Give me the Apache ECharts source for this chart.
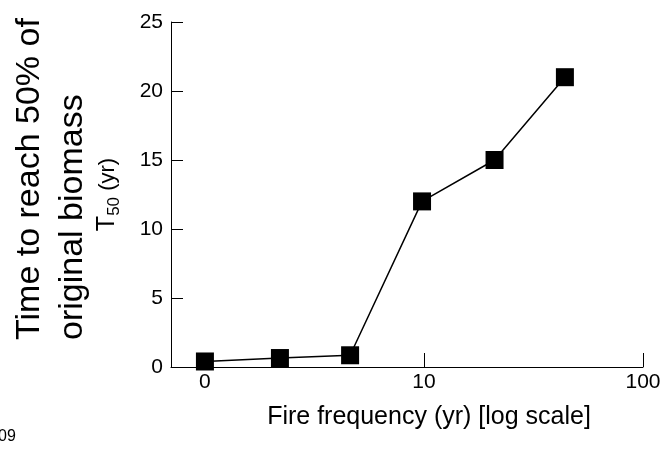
<!DOCTYPE html>
<html>
<head>
<meta charset="utf-8">
<script src="https://cdn.jsdelivr.net/npm/echarts@6/dist/echarts.min.js"></script>
<style>
  html,body{margin:0;background:#fff;}
  #chart{width:670px;height:449px;}
</style>
</head>
<body>
<div id="chart"></div>
<script>
// fire frequency (yr), plotted on a log axis ("0" is drawn at 1)
const freq = [1, 2.2, 4.6, 9.8, 21, 44];
// T50 (yr) for each frequency
const t50 = [0.4, 0.65, 0.85, 12, 15, 21];
// x tick labels: value -> text
const xTickValues = [1, 10, 100];
const xTickTexts = ['0', '10', '100'];

const chart = echarts.init(document.getElementById('chart'));

chart.setOption({
  animation: false,
  textStyle: { fontFamily: 'Liberation Sans, Arial, sans-serif', color: '#000' },
  grid: { left: 171, right: 27, top: 22, bottom: 82 },
  xAxis: {
    type: 'log',
    logBase: 10,
    min: 0.7,
    max: 100,
    name: 'Fire frequency (yr) [log scale]',
    nameLocation: 'middle',
    nameGap: 38,
    nameTextStyle: { fontSize: 25, color: '#000', padding: [0, 0, 0, 44] },
    axisLine: { lineStyle: { color: '#000', width: 1 } },
    axisTick: { inside: true, length: 14, lineStyle: { color: '#000' } },
    minorTick: { show: false },
    splitLine: { show: false },
    axisLabel: {
      fontSize: 21,
      color: '#000',
      margin: 5,
      showMinLabel: true,
      formatter: function (v) {
        const i = xTickValues.findIndex(t => Math.abs(t - v) < 1e-6);
        return i < 0 ? '' : xTickTexts[i];
      }
    }
  },
  yAxis: {
    type: 'value',
    min: 0,
    max: 25,
    interval: 5,
    name: '{t|T}{s|50}{u| (yr)}',
    nameLocation: 'middle',
    nameRotate: 90,
    nameGap: 48,
    nameTextStyle: {
      rich: {
        t: { fontSize: 25, color: '#000' },
        s: { fontSize: 17, color: '#000', verticalAlign: 'bottom', lineHeight: 31 },
        u: { fontSize: 22, color: '#000' }
      }
    },
    axisLine: { show: true, lineStyle: { color: '#000', width: 1 } },
    axisTick: { inside: true, length: 12, lineStyle: { color: '#000' } },
    splitLine: { show: false },
    axisLabel: { fontSize: 21, color: '#000', margin: 8 }
  },
  graphic: [
    {
      type: 'text',
      x: 8,
      y: 340,
      rotation: Math.PI / 2,
      style: {
        text: 'Time to reach 50% of\noriginal biomass',
        font: '34px "Liberation Sans", Arial, sans-serif',
        fill: '#000',
        lineHeight: 43,
        textAlign: 'left',
        textVerticalAlign: 'top'
      }
    },
    {
      type: 'text',
      x: -2,
      y: 437,
      style: {
        text: '09',
        font: '16px "Liberation Sans", Arial, sans-serif',
        fill: '#000',
        textAlign: 'left',
        textVerticalAlign: 'middle'
      }
    }
  ],
  series: [
    {
      type: 'line',
      data: freq.map((f, i) => [f, t50[i]]),
      symbol: 'rect',
      symbolSize: 18,
      itemStyle: { color: '#000' },
      lineStyle: { color: '#000', width: 1.5 }
    }
  ]
});
</script>
</body>
</html>
